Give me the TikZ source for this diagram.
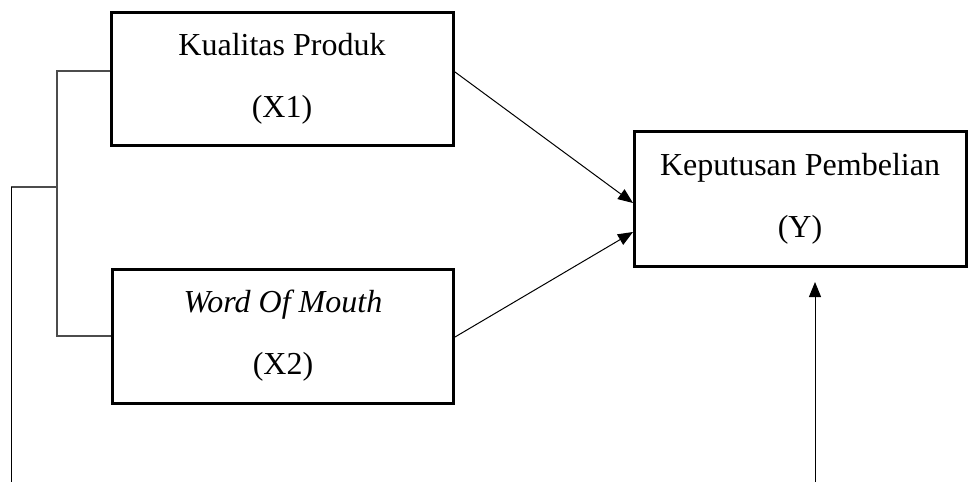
\documentclass[tikz,border=0pt]{standalone}
\usepackage{fontspec}
\setmainfont{Liberation Serif}
\usetikzlibrary{arrows.meta}
\begin{document}
\begin{tikzpicture}[x=1pt,y=-1pt,
  varbox/.style={draw=black, line width=3pt, rectangle, align=center, inner sep=0pt,
    font=\fontsize{32}{62}\selectfont},
  conn/.style={line width=1pt, draw=black},
  bracket/.style={line width=1.4pt, draw=black!70},
  arr/.style={conn, -{Triangle[length=15pt,width=12pt]}}]
\useasboundingbox (0,0) rectangle (968,482);
\node[varbox, minimum width=342pt, minimum height=133pt] (b1) at (282,78.5) {Kualitas Produk\\(X1)};
\node[varbox, minimum width=341pt, minimum height=134pt] (b2) at (283,336) {\textit{Word Of Mouth}\\(X2)};
\node[varbox, minimum width=332pt, minimum height=135pt] (b3) at (800,198.5) {Keputusan Pembelian\\(Y)};
% bracket on the left
\coordinate (bt) at (57,71);
\coordinate (bb) at (57,336);
\coordinate (bm) at (57,187);
\coordinate (lt) at (11,187);
\coordinate (lb) at (11,482);
\draw[bracket] (b1.west |- bt) -- (bt) -- (bb) -- (b2.west |- bb);
\draw[bracket] (bm) -- (lt);
\draw[conn] (lt) -- (lb);
% arrows to Y
\coordinate (s1) at (455,72);
\coordinate (t1) at (633,203);
\coordinate (s2) at (455,337);
\coordinate (t2) at (633,232);
\draw[arr] (s1) -- (t1);
\draw[arr] (s2) -- (t2);
\coordinate (s3) at (815,482);
\coordinate (t3) at (815,282);
\draw[arr] (s3) -- (t3);
\end{tikzpicture}
\end{document}
